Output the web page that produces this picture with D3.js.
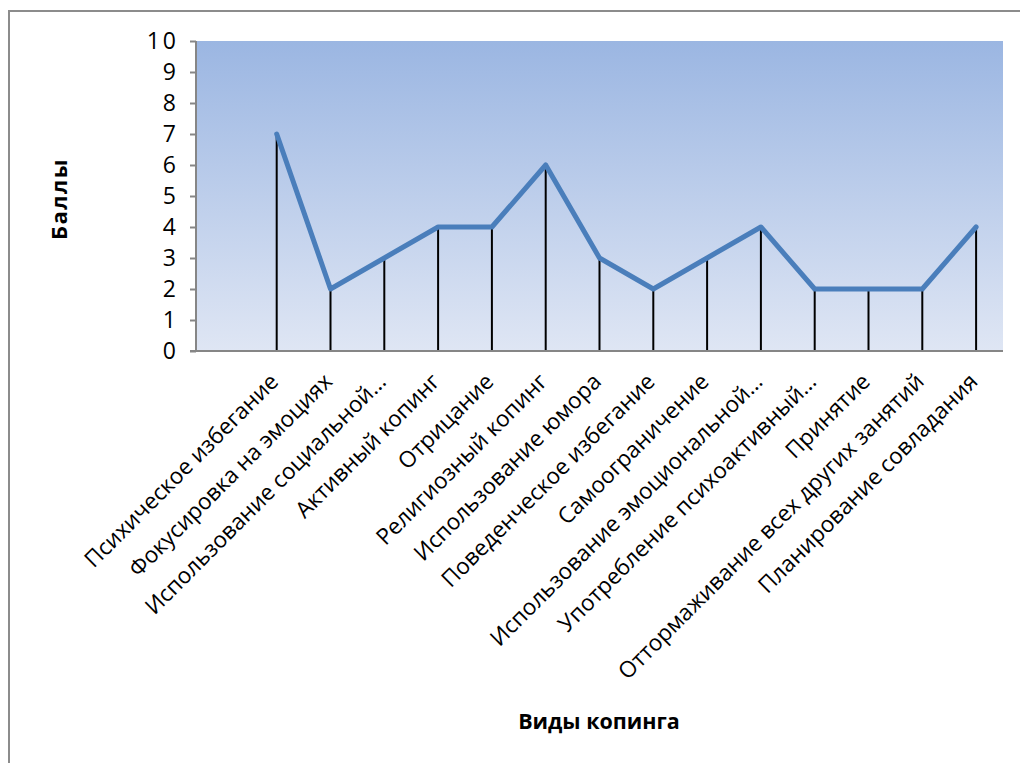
<!DOCTYPE html>
<html>
<head>
<meta charset="utf-8">
<script src="https://cdn.jsdelivr.net/npm/d3@7"></script>
<style>
  html, body { margin: 0; padding: 0; background: #fff; overflow: hidden; }
  svg { display: block; }
  text { font-family: "Open Sans", "Noto Sans", sans-serif; fill: #000; }
</style>
</head>
<body>
<script>
// Coping types (leading blank slot keeps the first category offset from the axis)
const categories = [
  "",
  "Психическое избегание",
  "Фокусировка на эмоциях",
  "Использование социальной…",
  "Активный копинг",
  "Отрицание",
  "Религиозный копинг",
  "Использование юмора",
  "Поведенческое избегание",
  "Самоограничение",
  "Использование эмоциональной…",
  "Употребление психоактивный…",
  "Принятие",
  "Оттормаживание всех других занятий",
  "Планирование совладания"
];
const scores = [null, 7, 2, 3, 4, 4, 6, 3, 2, 3, 4, 2, 2, 2, 4];
const yTicks = [0, 1, 2, 3, 4, 5, 6, 7, 8, 9, 10];
const yTitle = "Баллы";
const xTitle = "Виды копинга";

const W = 1020, H = 763;
const plot = { left: 196, right: 1003, top: 41, bottom: 351 };

const svg = d3.select("body").append("svg").attr("width", W).attr("height", H);

// Chart frame (runs past the right and bottom edges)
svg.append("rect")
  .attr("x", 9).attr("y", 11).attr("width", W + 20).attr("height", H + 20)
  .attr("fill", "#fff").attr("stroke", "#8c8c8c").attr("stroke-width", 2);

// Plot area gradient
const defs = svg.append("defs");
const grad = defs.append("linearGradient").attr("id", "plotFill")
  .attr("x1", 0).attr("y1", 0).attr("x2", 0).attr("y2", 1);
grad.append("stop").attr("offset", "0%").attr("stop-color", "#9bb6e2");
grad.append("stop").attr("offset", "100%").attr("stop-color", "#dfe6f4");

const x = d3.scaleBand().domain(categories.map((c, i) => i)).range([plot.left, plot.right]);
const y = d3.scaleLinear().domain([0, 10]).range([plot.bottom, plot.top]);

svg.append("rect")
  .attr("x", plot.left).attr("y", plot.top)
  .attr("width", plot.right - plot.left).attr("height", plot.bottom - plot.top)
  .attr("fill", "url(#plotFill)");

const cx = i => x(i) + x.bandwidth() / 2;
const pts = scores.map((v, i) => ({ i, v })).filter(d => d.v !== null);

// Drop lines
svg.append("g").selectAll("line").data(pts).join("line")
  .attr("x1", d => cx(d.i)).attr("x2", d => cx(d.i))
  .attr("y1", d => y(d.v)).attr("y2", y(0))
  .attr("stroke", "#000").attr("stroke-width", 2);

// Y axis
const yAxis = svg.append("g")
  .attr("transform", `translate(${plot.left},0)`)
  .call(d3.axisLeft(y).tickValues(yTicks).tickSize(6).tickPadding(11).tickFormat(d3.format("d")));
yAxis.select(".domain").attr("stroke", "#868686").attr("stroke-width", 2).attr("d", `M0,${plot.top}V${plot.bottom}`);
yAxis.selectAll(".tick line").attr("stroke", "#868686").attr("stroke-width", 2);
yAxis.selectAll(".tick text")
  .attr("font-size", 23)
  .attr("font-family", "'Open Sans', sans-serif")
  .attr("letter-spacing", 3)
  .attr("fill", "#000");

// X axis baseline and category labels
const xAxis = svg.append("g")
  .attr("transform", `translate(0,${plot.bottom})`)
  .call(d3.axisBottom(x).tickSize(0).tickFormat(i => categories[i]));
xAxis.select(".domain").attr("stroke", "#868686").attr("stroke-width", 2)
  .attr("d", `M${plot.left - 6},0H${plot.right}`);
xAxis.selectAll(".tick text")
  .attr("font-size", 22.5)
  .attr("font-family", "'Open Sans', sans-serif")
  .attr("fill", "#000")
  .attr("text-anchor", "end")
  .attr("dy", null).attr("y", null)
  .attr("transform", "translate(3,32) rotate(-45)");

// Score line
svg.append("path")
  .datum(pts)
  .attr("fill", "none")
  .attr("stroke", "#4a7ebb")
  .attr("stroke-width", 5)
  .attr("stroke-linejoin", "round")
  .attr("stroke-linecap", "round")
  .attr("d", d3.line().x(d => cx(d.i)).y(d => y(d.v)));

// Axis titles
svg.append("text")
  .attr("transform", `translate(67,199) rotate(-90)`)
  .attr("text-anchor", "middle")
  .attr("font-size", 22).attr("font-weight", "bold")
  .attr("letter-spacing", 1.5)
  .text(yTitle);
svg.append("text")
  .attr("x", 599).attr("y", 729)
  .attr("text-anchor", "middle")
  .attr("font-size", 21.5).attr("font-weight", "bold")
  .text(xTitle);
</script>
</body>
</html>
